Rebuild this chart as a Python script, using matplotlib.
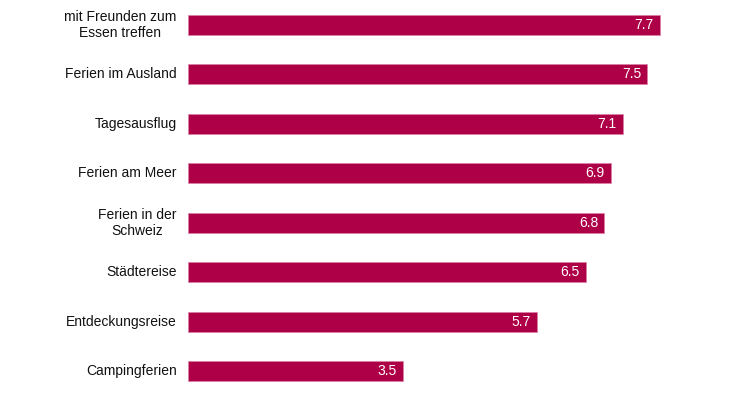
import matplotlib.pyplot as plt

plt.rcParams['font.family'] = ['Liberation Sans', 'DejaVu Sans']

# Daten (von oben nach unten)
kategorien = ['mit Freunden zum\nEssen treffen', 'Ferien im Ausland', 'Tagesausflug',
              'Ferien am Meer', 'Ferien in der\nSchweiz', 'Städtereise',
              'Entdeckungsreise', 'Campingferien']
werte = [7.7, 7.5, 7.1, 6.9, 6.8, 6.5, 5.7, 3.5]

farbe = '#AE0046'

fig = plt.figure(figsize=(7.3, 3.98), dpi=100)
ax = fig.add_axes([188.3 / 730, 2 / 398, 489.6 / 730, 396 / 398])

y = list(range(len(werte)))
ax.barh(y, werte, height=0.404, color=farbe, edgecolor='#E07FA5', linewidth=0.5)

ax.set_xlim(0, 8)
ax.set_ylim(len(werte) - 0.5, -0.5)

# Werte in den Balken
for i, v in enumerate(werte):
    ax.text(v - 0.1, i, f'{v:.1f}', color='white', fontsize=10,
            ha='right', va='center')

# Kategorien links
for i, k in enumerate(kategorien):
    ax.text(-0.19, i, k, color='#111111', fontsize=10, ha='right', va='center',
            multialignment='center')

ax.axis('off')

fig.savefig('out.png', dpi=100)
